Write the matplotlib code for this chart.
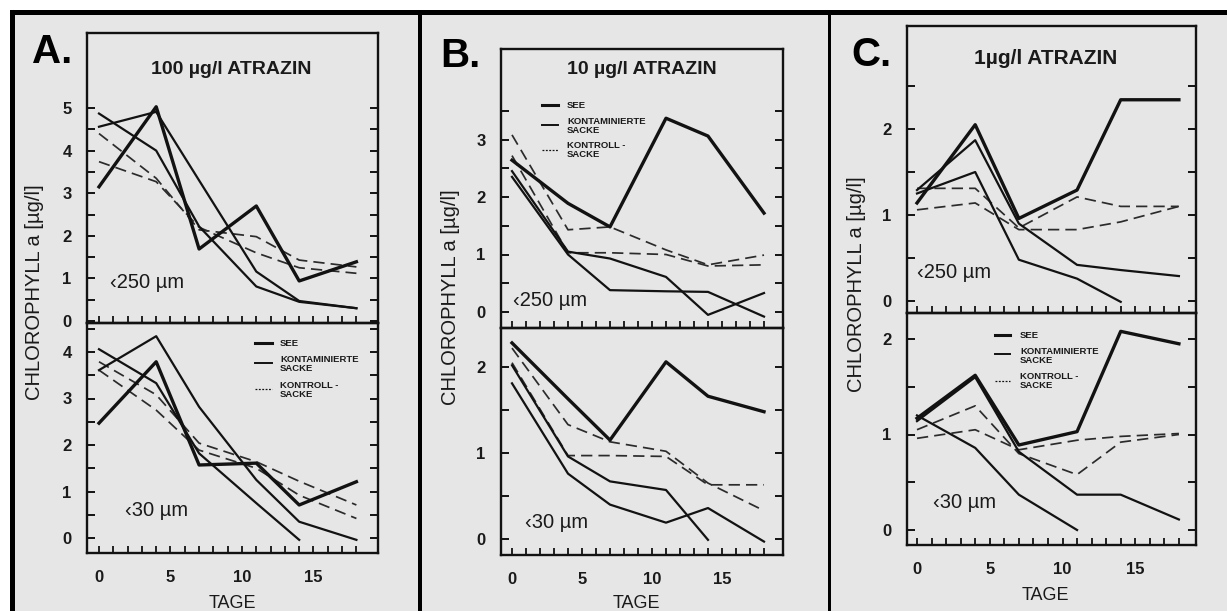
import matplotlib
matplotlib.use("Agg")
import matplotlib.pyplot as plt
from matplotlib.patches import Rectangle
import numpy as np

plt.rcParams['font.family'] = ['Liberation Sans', 'DejaVu Sans']

# ---- data: chlorophyll a [µg/l] over days ----
days = [0, 4, 7, 11, 14, 18]

# A: 100 µg/l atrazine
a250_see = [3.15, 5.03, 1.69, 2.70, 0.94, 1.39]
a250_kont1 = [4.87, 4.00, 2.22, 0.81, 0.45, 0.30]
a250_kont2 = [4.56, 4.91, 3.30, 1.16, 0.47, 0.30]
a250_ctrl1 = [4.40, 3.35, 2.14, 1.98, 1.43, 1.27]
a250_ctrl2 = [3.74, 3.27, 2.20, 1.60, 1.25, 1.12]

a30_see = [2.47, 3.79, 1.57, 1.61, 0.71, 1.21]
a30_kont1 = [3.61, 4.34, 2.82, 1.25, 0.35, -0.04]
a30_kont2 = [4.06, 3.33, 1.82, 0.75, -0.04]
a30_ctrl1 = [3.79, 3.08, 2.04, 1.64, 1.22, 0.71]
a30_ctrl2 = [3.61, 2.75, 1.89, 1.50, 0.92, 0.42]

# B: 10 µg/l atrazine
b250_see = [2.64, 1.89, 1.48, 3.37, 3.06, 1.72]
b250_kont1 = [2.45, 1.05, 0.93, 0.61, -0.05, 0.33]
b250_kont2 = [2.35, 1.00, 0.38, 0.36, 0.35, -0.08]
b250_ctrl1 = [3.08, 1.43, 1.48, 1.08, 0.82, 0.99]
b250_ctrl2 = [2.72, 1.03, 1.03, 1.00, 0.80, 0.82]

b30_see = [2.28, 1.63, 1.15, 2.06, 1.66, 1.48]
b30_kont1 = [2.02, 0.96, 0.67, 0.57, -0.01]
b30_kont2 = [1.81, 0.76, 0.40, 0.19, 0.36, -0.03]
b30_ctrl1 = [2.22, 1.33, 1.13, 1.02, 0.65, 0.33]
b30_ctrl2 = [2.05, 0.97, 0.97, 0.96, 0.63, 0.63]

# C: 1 µg/l atrazine
c250_see = [1.14, 2.05, 0.96, 1.29, 2.34, 2.34]
c250_kont1 = [1.29, 1.87, 0.90, 0.42, 0.36, 0.29]
c250_kont2 = [1.25, 1.50, 0.48, 0.26, -0.01]
c250_ctrl1 = [1.31, 1.31, 0.85, 1.21, 1.10, 1.10]
c250_ctrl2 = [1.06, 1.14, 0.83, 0.83, 0.92, 1.10]

c30_see = [1.17, 1.62, 0.89, 1.03, 2.08, 1.95]
c30_kont1 = [1.14, 1.60, 0.82, 0.37, 0.37, 0.11]
c30_kont2 = [1.20, 0.86, 0.37, 0.00]
c30_ctrl1 = [1.05, 1.30, 0.80, 0.58, 0.92, 1.00]
c30_ctrl2 = [0.96, 1.05, 0.84, 0.94, 0.98, 1.01]

panel_letters = ["A.", "B.", "C."]
panel_titles = ["100 µg/l ATRAZIN", "10 µg/l ATRAZIN", "1µg/l ATRAZIN"]
size_labels = ["‹250 µm", "‹30 µm"]
legend_labels = ["SEE", "KONTAMINIERTE\nSACKE", "KONTROLL -\nSACKE"]
x_ticks = [0, 5, 10, 15]

# ---- figure laid out in pixel units ----
W, H = 1227, 611
fig = plt.figure(figsize=(W / 100, H / 100), dpi=100, facecolor="white")

INK = "#121212"
TXT = "#1a1a1a"
BG = "#e6e6e6"

# backdrop axes in pixel coordinates (y downwards) for frames, legends and labels
bg = fig.add_axes([0, 0, 1, 1], zorder=-1)
bg.set_xlim(0, W)
bg.set_ylim(H, 0)
bg.axis("off")
bg.add_patch(Rectangle((10, 10), W - 10, H - 10, facecolor=BG, edgecolor="none"))
for (l, t, r, b) in [(10, 10, W, 15), (10, 10, 15, H), (418, 10, 422, H), (828, 10, 831, H)]:
    bg.add_patch(Rectangle((l, t), r - l, b - t, facecolor="black", edgecolor="none"))


def px_rect(l, t, r, b):
    return [l / W, 1 - b / H, (r - l) / W, (b - t) / H]


def style_axis(ax, xlim, ylim, ymax_label, ytick_top, show_x):
    ax.set_facecolor("none")
    ax.set_xlim(*xlim)
    ax.set_ylim(*ylim)
    for sp in ax.spines.values():
        sp.set_linewidth(1.7)
        sp.set_color(INK)
    ax.set_yticks(np.arange(0, ymax_label + 0.01, 1))
    ax.set_yticks(np.arange(0.5, ytick_top + 0.01, 1.0), minor=True)
    ax.set_xticks(x_ticks if show_x else [])
    ax.set_xticks(np.arange(0, 19, 1), minor=True)
    ax.tick_params(axis="y", which="both", direction="in", left=True, right=True,
                   length=5.5, width=1.4, colors=INK, labelsize=12, pad=11)
    ax.tick_params(axis="x", which="both", direction="in", bottom=True, top=False,
                   length=5, width=1.3, colors=INK, labelsize=12, pad=12)
    for lab in ax.get_yticklabels() + ax.get_xticklabels():
        lab.set_fontweight("bold")
        lab.set_color(TXT)


def plot_series(ax, see, k1, k2, c1, c2):
    def xs(v):
        return days[:len(v)]
    ax.plot(xs(c1), c1, color="#2b2b2b", lw=1.25, dashes=(6.5, 3.5))
    ax.plot(xs(c2), c2, color="#2b2b2b", lw=1.25, dashes=(6.5, 3.5))
    ax.plot(xs(k1), k1, color=INK, lw=1.6)
    ax.plot(xs(k2), k2, color=INK, lw=1.6)
    ax.plot(xs(see), see, color=INK, lw=2.4)


def legend(x_handle0, x_handle1, x_text, y_rows):
    # y_rows: (y of the text block, y of the handle) for each entry
    styles = [dict(lw=2.2), dict(lw=1.4), dict(lw=0.9, dashes=(1.5, 1.2))]
    for (y_text, y_handle), lab, st in zip(y_rows, legend_labels, styles):
        bg.plot([x_handle0, x_handle1], [y_handle, y_handle], color=INK, **st)
        bg.text(x_text, y_text, lab, fontsize=6.8, fontweight="bold", color=TXT,
                va="center", ha="left", linespacing=1.05)


panels = [
    dict(letter=(52, 52), title=(231, 70), title_fs=14, ylab=(35, 292), tage=(232, 603),
         left=87, right=378, top=33, mid=323, bottom=553, x0=99, xs=14.3,
         top_map=(321, 42.6), bot_map=(538, 46.5), top_max=5, bot_max=4,
         top_tick=4.5, bot_tick=4.5,
         s250=(110, 282), s30=(125, 510),
         data250=(a250_see, a250_kont1, a250_kont2, a250_ctrl1, a250_ctrl2),
         data30=(a30_see, a30_kont1, a30_kont2, a30_ctrl1, a30_ctrl2)),
    dict(letter=(460, 56), title=(642, 70), title_fs=14, ylab=(450, 297), tage=(636, 603),
         left=501, right=783, top=49, mid=328, bottom=555, x0=512, xs=14.0,
         top_map=(312, 57.5), bot_map=(539, 86.0), top_max=3, bot_max=2,
         top_tick=3.5, bot_tick=2.0,
         s250=(513, 300), s30=(525, 523),
         data250=(b250_see, b250_kont1, b250_kont2, b250_ctrl1, b250_ctrl2),
         data30=(b30_see, b30_kont1, b30_kont2, b30_ctrl1, b30_ctrl2)),
    dict(letter=(871, 55), title=(1046, 58), title_fs=15, ylab=(857, 284), tage=(1045, 596),
         left=907, right=1196, top=26, mid=313, bottom=545, x0=917, xs=14.55,
         top_map=(301, 86.0), bot_map=(530, 95.5), top_max=2, bot_max=2,
         top_tick=2.5, bot_tick=1.5,
         s250=(917, 273), s30=(933, 503),
         data250=(c250_see, c250_kont1, c250_kont2, c250_ctrl1, c250_ctrl2),
         data30=(c30_see, c30_kont1, c30_kont2, c30_ctrl1, c30_ctrl2)),
]

for i, p in enumerate(panels):
    xlim = ((p["left"] - p["x0"]) / p["xs"], (p["right"] - p["x0"]) / p["xs"])
    z, s = p["top_map"]
    ylim_top = ((z - p["mid"]) / s, (z - p["top"]) / s)
    z, s = p["bot_map"]
    ylim_bot = ((z - p["bottom"]) / s, (z - p["mid"]) / s)

    ax_t = fig.add_axes(px_rect(p["left"], p["top"], p["right"], p["mid"]))
    ax_b = fig.add_axes(px_rect(p["left"], p["mid"], p["right"], p["bottom"]))
    style_axis(ax_t, xlim, ylim_top, p["top_max"], p["top_tick"], False)
    style_axis(ax_b, xlim, ylim_bot, p["bot_max"], p["bot_tick"], True)

    plot_series(ax_t, *p["data250"])
    plot_series(ax_b, *p["data30"])

    bg.text(*p["letter"], panel_letters[i], fontsize=29, fontweight="bold",
            ha="center", va="center", color="black")
    bg.text(*p["title"], panel_titles[i], fontsize=p["title_fs"], fontweight="bold",
            ha="center", va="center", color=TXT)
    bg.text(*p["ylab"], "CHLOROPHYLL a [µg/l]", fontsize=14.5, rotation=90,
            ha="center", va="center", color=TXT)
    bg.text(*p["tage"], "TAGE", fontsize=13, ha="center", va="center", color=TXT)
    bg.text(*p["s250"], size_labels[0], fontsize=14.5, ha="left", va="center", color=TXT)
    bg.text(*p["s30"], size_labels[1], fontsize=14.5, ha="left", va="center", color=TXT)

legend(255, 272, 280, [(343, 343), (364, 363), (390, 389)])
legend(542, 558, 567, [(105, 105), (126, 125), (150, 150)])
legend(995, 1010, 1020, [(335, 335), (356, 354), (381, 381)])

fig.savefig("out.png", dpi=100, facecolor="white")
